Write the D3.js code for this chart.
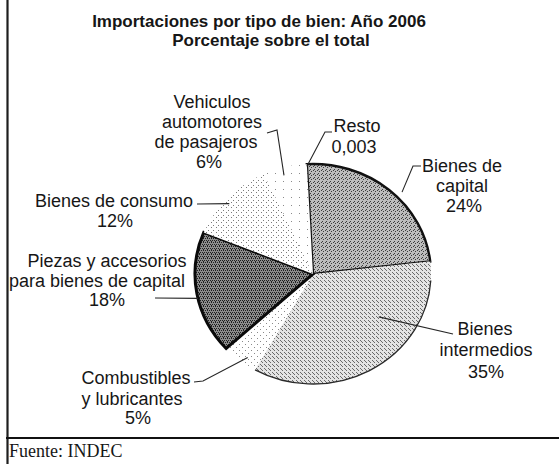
<!DOCTYPE html>
<html>
<head>
<meta charset="utf-8">
<script src="https://cdn.jsdelivr.net/npm/d3@7"></script>
<style>
  body { margin: 0; background: #fff; }
  svg { display: block; }
  text { font-family: "Liberation Sans", Arial, Helvetica, sans-serif; fill: #161616; }
</style>
</head>
<body>
<svg id="chart" width="559" height="464"></svg>
<script>
// ---- data ----
const categories = [
  "Bienes de capital",
  "Bienes intermedios",
  "Combustibles y lubricantes",
  "Piezas y accesorios para bienes de capital",
  "Bienes de consumo",
  "Vehiculos automotores de pasajeros",
  "Resto"
];
const shares = [24, 35, 5, 18, 12, 6, 0.003];
const valueLabels = ["24%", "35%", "5%", "18%", "12%", "6%", "0,003"];
const labelLines = [
  ["Bienes de", "capital"],
  ["Bienes", "intermedios"],
  ["Combustibles", "y lubricantes"],
  ["Piezas y accesorios", "para bienes de capital"],
  ["Bienes de consumo"],
  ["Vehiculos", "automotores", "de pasajeros"],
  ["Resto"]
];
const titleLines = ["Importaciones por tipo de bien: Año 2006", "Porcentaje sobre el total"];
const sourceNote = "Fuente: INDEC";

// ---- layout ----
const W = 559, H = 464;
const cx = 313, cy = 274, rx = 118, ry = 110;
const deg = Math.PI / 180;

const svg = d3.select("#chart");
const defs = svg.append("defs");

// stippled fills (tile: size, background, dot colour, dot cells)
function stipple(id, size, bg, dot, cells) {
  const p = defs.append("pattern")
    .attr("id", id).attr("patternUnits", "userSpaceOnUse")
    .attr("width", size).attr("height", size)
    .attr("patternTransform", `scale(${ry / rx},1)`);
  p.append("rect").attr("width", size).attr("height", size).attr("fill", bg);
  cells.forEach(([x, y]) => p.append("rect")
    .attr("x", x).attr("y", y).attr("width", 1).attr("height", 1)
    .attr("fill", dot).attr("shape-rendering", "crispEdges"));
}
stipple("f-capital", 4, "#bdbdbd", "#3c3c3c", [[0, 0], [2, 1], [1, 3]]);
stipple("f-interm", 4, "#e4e4e4", "#6a6a6a", [[1, 0], [3, 2], [0, 3]]);
stipple("f-comb", 6, "#ffffff", "#8a8a8a", [[1, 1], [4, 4]]);
stipple("f-piezas", 4, "#8c8c8c", "#202020", [[0, 0], [2, 0], [1, 2], [3, 2], [2, 3]]);
stipple("f-consumo", 5, "#ffffff", "#7a7a7a", [[0, 1], [3, 3]]);
stipple("f-vehic", 8, "#ffffff", "#8a8a8a", [[2, 3]]);

const sliceStyle = [
  { fill: "url(#f-capital)", stroke: "#111", sw: 2.4 },
  { fill: "url(#f-interm)", stroke: "none", sw: 0 },
  { fill: "url(#f-comb)", stroke: "none", sw: 0 },
  { fill: "url(#f-piezas)", stroke: "#0a0a0a", sw: 3 },
  { fill: "url(#f-consumo)", stroke: "none", sw: 0 },
  { fill: "url(#f-vehic)", stroke: "none", sw: 0 },
  { fill: "#ffffff", stroke: "none", sw: 0 }
];

// ---- pie ----
const start = -3 * deg;
const pie = d3.pie().sort(null).value(d => d)
  .startAngle(start).endAngle(start + 2 * Math.PI);
const slices = pie(shares);
const arc = d3.arc().innerRadius(0).outerRadius(ry);
const rim = d3.arc().innerRadius(ry).outerRadius(ry);

const pieG = svg.append("g")
  .attr("transform", `translate(${cx},${cy}) scale(${rx / ry},1)`);

pieG.selectAll("path.slice")
  .data(slices)
  .join("path")
  .attr("class", "slice")
  .attr("d", arc)
  .attr("fill", (d, i) => sliceStyle[i].fill)
  .attr("stroke", (d, i) => sliceStyle[i].stroke)
  .attr("stroke-width", (d, i) => sliceStyle[i].sw)
  .attr("stroke-linejoin", "miter")
  .attr("vector-effect", "non-scaling-stroke");

// thin rim along the lower edge of "Bienes intermedios"
const im = slices[1];
pieG.append("path")
  .attr("d", rim({ startAngle: im.startAngle + 10 * deg, endAngle: im.endAngle }))
  .attr("fill", "none").attr("stroke", "#2a2a2a").attr("stroke-width", 1.3)
  .attr("vector-effect", "non-scaling-stroke");

// point on the (elliptical) pie at a fraction through a slice
function pointOn(s, frac, rf) {
  const a = s.startAngle + frac * (s.endAngle - s.startAngle);
  return [cx + rx * rf * Math.sin(a), cy - ry * rf * Math.cos(a)];
}

// ---- leaders and labels ----
const labelLayout = [
  { frac: 0.56, rf: 1.06, path: [[413, 166], [421, 166]], x: [462, 462, 464], y: [172, 192, 212] },
  { frac: 0.33, rf: 0.68, path: [[453, 334]], x: [485, 486, 486], y: [335, 356, 378] },
  { frac: 0.37, rf: 0.94, path: [[203, 381], [194, 382]], x: [136, 132, 138], y: [384, 405, 424] },
  { frac: 0.46, rf: 1.0, path: [[155, 298]], x: [107, 97, 107], y: [267, 287, 306] },
  { frac: 0.46, rf: 0.955, path: [[197, 204]], x: [114, 115], y: [207, 227] },
  { frac: 0.43, rf: 0.93, path: [[277, 130], [267, 133]], x: [212, 212, 206, 209], y: [108, 128, 148, 168] },
  { frac: 0.5, rf: 0.98, path: [[325, 132], [332, 132]], x: [357, 354], y: [132, 153] }
];

const line = d3.line();
svg.append("g").selectAll("path")
  .data(slices)
  .join("path")
  .attr("d", (s, i) => line([pointOn(s, labelLayout[i].frac, labelLayout[i].rf), ...labelLayout[i].path]))
  .attr("fill", "none").attr("stroke", "#262626").attr("stroke-width", 1.1);

const labels = svg.append("g").attr("font-size", 18).attr("text-anchor", "middle");
categories.forEach((c, i) => {
  const L = labelLayout[i];
  const lines = labelLines[i].concat([valueLabels[i]]);
  lines.forEach((t, k) => {
    labels.append("text").attr("x", L.x[k]).attr("y", L.y[k]).text(t);
  });
});

// ---- title ----
svg.append("text").attr("x", 259).attr("y", 27).attr("text-anchor", "middle")
  .attr("font-size", 17).attr("font-weight", "bold").text(titleLines[0]);
svg.append("text").attr("x", 271).attr("y", 46).attr("text-anchor", "middle")
  .attr("font-size", 17).attr("font-weight", "bold").text(titleLines[1]);

// ---- frame and source ----
svg.append("line").attr("x1", 7.5).attr("x2", 7.5).attr("y1", 0).attr("y2", H)
  .attr("stroke", "#1e1e1e").attr("stroke-width", 2.2);
svg.append("line").attr("x1", 6).attr("x2", W).attr("y1", 438).attr("y2", 438)
  .attr("stroke", "#111").attr("stroke-width", 2);
svg.append("text").attr("x", 9).attr("y", 457)
  .style("font-family", "'Liberation Serif', 'Times New Roman', serif")
  .attr("font-size", 18).text(sourceNote);
</script>
</body>
</html>
